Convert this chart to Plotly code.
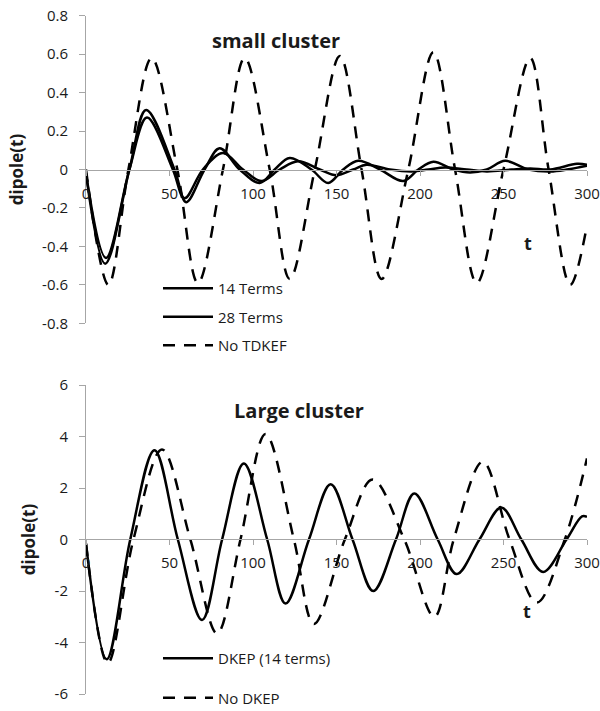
import plotly.graph_objects as go

# ---------------- data ----------------
# small cluster
t_14 = [0, 11.5, 26, 36, 53, 60, 71, 80, 92, 104, 113, 122, 135, 145, 154, 163, 176, 190, 199, 208, 220, 230, 240, 251, 265, 278, 288, 300]
v_14 = [-0.02, -0.49, 0, 0.31, 0, -0.17, 0, 0.11, 0, -0.07, 0, 0.06, 0, -0.07, 0, 0.045, 0, -0.06, 0, 0.04, 0, -0.015, 0, 0.045, 0, -0.01, 0, 0.02]

t_28 = [0, 12, 26, 36.5, 52, 59, 70, 82, 94, 105, 116, 127, 140, 150, 160, 168, 182, 195, 205, 215, 228, 240, 255, 266, 278, 294, 300]
v_28 = [-0.02, -0.46, 0, 0.27, 0, -0.15, 0, 0.086, 0, -0.06, 0, 0.043, 0, -0.03, 0, 0.025, 0, -0.01, 0, 0.01, 0, -0.01, 0, 0.005, 0, 0.03, 0.025]

t_notdkef = [0, 13.4, 25.4, 39.3, 54.7, 67, 82, 95, 110, 122, 137, 152, 165, 177, 193, 208, 221, 234, 250, 266, 277, 290, 300]
v_notdkef = [0, -0.6, 0, 0.58, 0, -0.59, 0, 0.58, 0, -0.57, 0, 0.59, 0, -0.57, 0, 0.61, 0, -0.59, 0, 0.58, 0, -0.6, -0.29]

# large cluster
t_dkep = [0, 12.4, 26.5, 41, 55, 69.5, 81.5, 94.5, 108.5, 119.5, 133.5, 146.5, 159.6, 172, 185.6, 196.6, 210.6, 222, 235.6, 248.7, 260.7, 273.7, 287.7, 297, 300]
v_dkep = [-0.16, -4.65, 0, 3.47, 0, -3.13, 0, 2.95, 0, -2.49, 0, 2.15, 0, -2.0, 0, 1.79, 0, -1.34, 0, 1.24, 0, -1.26, 0, 0.9, 0.88]

t_nodkep = [0, 13, 28.4, 45.5, 62.5, 78.5, 92.5, 107.5, 124.5, 136.5, 155, 171.6, 190.6, 208.6, 220.2, 237.6, 253.6, 270, 286.7, 300]
v_nodkep = [-0.16, -4.8, 0, 3.5, 0, -3.65, 0, 4.1, 0, -3.28, 0, 2.33, 0, -3.0, 0, 3.02, 0, -2.45, 0, 3.15]

# tick labels
x_tickvals = [0, 50, 100, 150, 200, 250, 300]
x_ticktext = ["0", "50", "100", "150", "200", "250", "300"]
y1_tickvals = [0.8, 0.6, 0.4, 0.2, 0, -0.2, -0.4, -0.6, -0.8]
y1_ticktext = ["0.8", "0.6", "0.4", "0.2", "0", "-0.2", "-0.4", "-0.6", "-0.8"]
y2_tickvals = [6, 4, 2, 0, -2, -4, -6]
y2_ticktext = ["6", "4", "2", "0", "-2", "-4", "-6"]

# ---------------- figure ----------------
W, H = 600, 711
FONT = "Open Sans"
AX = "#a6a6a6"
TXT = "#1a1a1a"
DASH = "12px,9px"


def px(x):
    return x / W


def py(y):
    return 1 - y / H


fig = go.Figure()

fig.add_trace(go.Scatter(x=t_14, y=v_14, name="14 Terms", mode="lines",
                         line=dict(color="black", width=2.5, shape="spline"),
                         xaxis="x", yaxis="y", legend="legend", legendgroup="a"))
fig.add_trace(go.Scatter(x=t_28, y=v_28, name="28 Terms", mode="lines",
                         line=dict(color="black", width=2.5, shape="spline"),
                         xaxis="x", yaxis="y", legend="legend", legendgroup="b"))
fig.add_trace(go.Scatter(x=t_notdkef, y=v_notdkef, name="No TDKEF", mode="lines",
                         line=dict(color="black", width=2.5, shape="spline", dash=DASH),
                         xaxis="x", yaxis="y", legend="legend", legendgroup="c"))

fig.add_trace(go.Scatter(x=t_dkep, y=v_dkep, name="DKEP (14 terms)", mode="lines",
                         line=dict(color="black", width=2.5, shape="spline"),
                         xaxis="x2", yaxis="y2", legend="legend2", legendgroup="d"))
fig.add_trace(go.Scatter(x=t_nodkep, y=v_nodkep, name="No DKEP", mode="lines",
                         line=dict(color="black", width=2.5, shape="spline", dash=DASH),
                         xaxis="x2", yaxis="y2", legend="legend2", legendgroup="e"))

xdom = [px(86), px(587)]
common_x = dict(range=[0, 300], showline=True, linecolor=AX, linewidth=1,
                ticks="outside", ticklen=5, tickcolor=AX, tickvals=x_tickvals,
                ticktext=x_ticktext, showgrid=False, zeroline=False,
                tickfont=dict(family=FONT, size=15, color=TXT), ticklabelstandoff=5,
                ticklabeloverflow="allow", domain=xdom, anchor="free")
common_y = dict(showline=True, linecolor=AX, linewidth=1, ticks="outside", ticklen=6,
                tickcolor=AX, showgrid=False, zeroline=False,
                tickfont=dict(family=FONT, size=15, color=TXT), ticklabelstandoff=8,
                ticklabeloverflow="allow")

fig.update_layout(
    width=W, height=H,
    margin=dict(l=0, r=0, t=0, b=0, autoexpand=False),
    paper_bgcolor="white", plot_bgcolor="white",
    font=dict(family=FONT, color=TXT),
    xaxis=dict(**common_x, position=py(170)),
    yaxis=dict(**common_y, domain=[py(323.3), py(15.7)], range=[-0.8, 0.8],
               tickvals=y1_tickvals, ticktext=y1_ticktext, anchor="x",
               title=dict(text="<b>dipole(t)</b>", font=dict(family=FONT, size=17, color=TXT),
                          standoff=14)),
    xaxis2=dict(**common_x, position=py(539.3)),
    yaxis2=dict(**common_y, domain=[py(694), py(385)], range=[-6, 6],
                tickvals=y2_tickvals, ticktext=y2_ticktext, anchor="x2",
                title=dict(text="<b>dipole(t)</b>", font=dict(family=FONT, size=17, color=TXT),
                           standoff=14)),
    legend=dict(x=px(158), y=py(272), xanchor="left", yanchor="top",
                bgcolor="rgba(0,0,0,0)", font=dict(family=FONT, size=15, color=TXT),
                tracegroupgap=6, itemwidth=50),
    legend2=dict(x=px(158), y=py(642), xanchor="left", yanchor="top",
                 bgcolor="rgba(0,0,0,0)", font=dict(family=FONT, size=15, color=TXT),
                 tracegroupgap=17, itemwidth=50),
    showlegend=True,
    annotations=[
        dict(text="<b>small cluster</b>", x=px(276), y=py(40), xref="paper", yref="paper",
             xanchor="center", yanchor="middle",
             showarrow=False, font=dict(family=FONT, size=20, color=TXT)),
        dict(text="<b>Large cluster</b>", x=px(299), y=py(410), xref="paper", yref="paper",
             xanchor="center", yanchor="middle",
             showarrow=False, font=dict(family=FONT, size=20, color=TXT)),
        dict(text="<b>t</b>", x=px(528), y=py(243), xref="paper", yref="paper",
             xanchor="center", yanchor="middle",
             showarrow=False, font=dict(family=FONT, size=18, color=TXT)),
        dict(text="<b>t</b>", x=px(527), y=py(611), xref="paper", yref="paper",
             xanchor="center", yanchor="middle",
             showarrow=False, font=dict(family=FONT, size=18, color=TXT)),
    ],
)

fig.write_html("out.html")
